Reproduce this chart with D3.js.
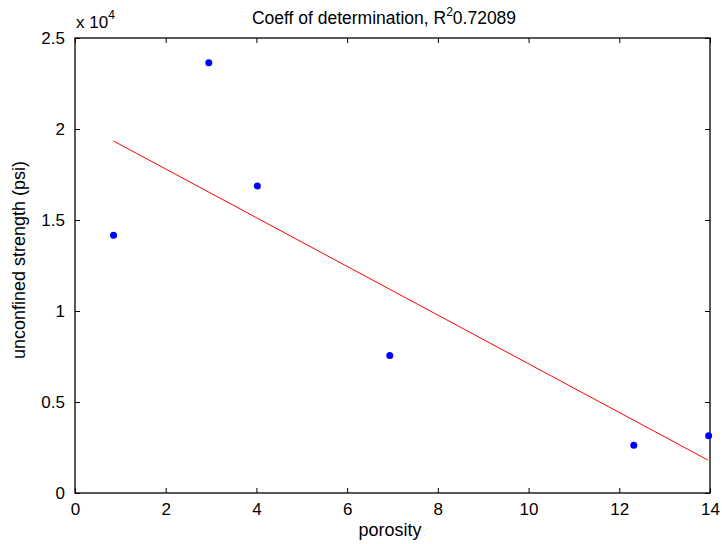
<!DOCTYPE html>
<html>
<head>
<meta charset="utf-8">
<script src="https://cdn.jsdelivr.net/npm/d3@7"></script>
<style>
  body { margin: 0; background: #fff; }
  svg text { font-family: Arial, "Liberation Sans", sans-serif; fill: #000; }
</style>
</head>
<body>
<svg id="chart" width="722" height="544"></svg>
<script>
// measured samples
const porosity = [0.85, 2.95, 4.02, 6.94, 12.32, 13.97];
const strength = [14160, 23640, 16870, 7560, 2630, 3150];
// least squares fit line, end points
const fitX = [0.85, 13.95];
const fitY = [19340, 1815];
const xTicks = [0, 2, 4, 6, 8, 10, 12, 14];
const yTicks = [0, 5000, 10000, 15000, 20000, 25000];

const svg = d3.select("#chart");
const mLeft = 75, mRight = 710, mTop = 38, mBottom = 493;

const x = d3.scaleLinear().domain([0, 14]).range([mLeft, mRight]);
const y = d3.scaleLinear().domain([0, 25000]).range([mBottom, mTop]);

// ticks point inward on all four sides
const tickLen = 5;
const fmtY = (d) => d3.format("~g")(d / 1e4);

svg.append("g")
    .attr("transform", "translate(0," + mBottom + ")")
    .call(d3.axisBottom(x).tickValues(xTicks).tickSizeInner(-tickLen).tickSizeOuter(0).tickPadding(10))
    .call((g) => g.select(".domain").remove());
svg.append("g")
    .attr("transform", "translate(0," + mTop + ")")
    .call(d3.axisTop(x).tickValues(xTicks).tickSizeInner(-tickLen).tickSizeOuter(0).tickFormat(""))
    .call((g) => g.select(".domain").remove());
svg.append("g")
    .attr("transform", "translate(" + mLeft + ",0)")
    .call(d3.axisLeft(y).tickValues(yTicks).tickSizeInner(-tickLen).tickSizeOuter(0).tickPadding(10).tickFormat(fmtY))
    .call((g) => g.select(".domain").remove());
svg.append("g")
    .attr("transform", "translate(" + mRight + ",0)")
    .call(d3.axisRight(y).tickValues(yTicks).tickSizeInner(-tickLen).tickSizeOuter(0).tickFormat(""))
    .call((g) => g.select(".domain").remove());

svg.selectAll(".tick line").attr("stroke", "#000").attr("stroke-width", 1);
svg.selectAll(".tick text").attr("font-size", 17).attr("font-family", "Arial, 'Liberation Sans', sans-serif").attr("fill", "#000");

// plot box
svg.append("rect")
    .attr("x", mLeft).attr("y", mTop)
    .attr("width", mRight - mLeft).attr("height", mBottom - mTop)
    .attr("fill", "none").attr("stroke", "#000").attr("stroke-width", 1.3);

// fit line
const fitPts = fitX.map((d, i) => [d, fitY[i]]);
svg.append("path")
    .datum(fitPts)
    .attr("d", d3.line().x((d) => x(d[0])).y((d) => y(d[1])))
    .attr("fill", "none").attr("stroke", "#ff0000").attr("stroke-width", 1);

// data points
svg.append("g").selectAll("circle")
    .data(porosity)
    .join("circle")
    .attr("cx", (d) => x(d))
    .attr("cy", (d, i) => y(strength[i]))
    .attr("r", 3.5)
    .attr("fill", "#0000ff");

// exponent label
const expo = svg.append("text").attr("x", mLeft + 1).attr("y", 28).attr("font-size", 17);
expo.append("tspan").text("x 10");
expo.append("tspan").attr("dy", -9).attr("font-size", 12).text("4");

// title
const title = svg.append("text")
    .attr("x", 384).attr("y", 24)
    .attr("text-anchor", "middle").attr("font-size", 17.5);
title.append("tspan").text("Coeff of determination, R");
title.append("tspan").attr("dy", -8).attr("font-size", 12).text("2");
title.append("tspan").attr("dy", 8).text("0.72089");

// axis labels
svg.append("text")
    .attr("x", 390).attr("y", 536)
    .attr("text-anchor", "middle").attr("font-size", 18)
    .text("porosity");
svg.append("text")
    .attr("transform", "translate(25,260) rotate(-90)")
    .attr("text-anchor", "middle").attr("font-size", 18)
    .text("unconfined strength (psi)");
</script>
</body>
</html>
